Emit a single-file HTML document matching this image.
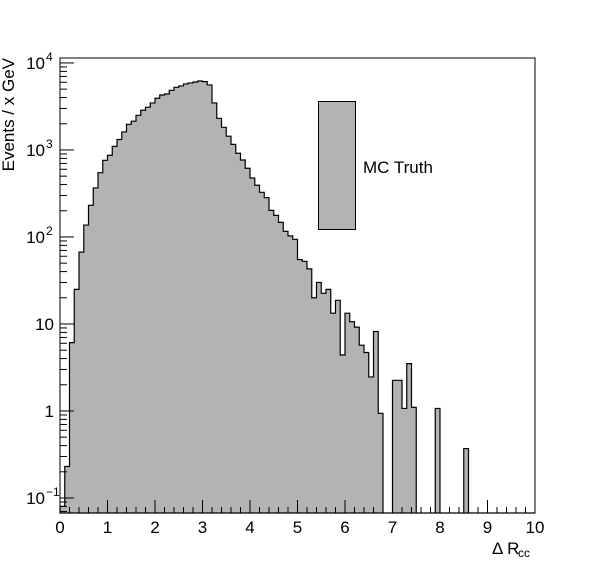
<!DOCTYPE html>
<html><head><meta charset="utf-8"><style>
body{margin:0;background:#fff;}
svg{display:block;font-family:"Liberation Sans",sans-serif;}
</style></head><body>
<svg id="chart" width="596" height="572" viewBox="0 0 596 572"></svg>
<script>
const binEdgesStart = 0, binWidth = 0.1;
const counts = [0.08,0.23,6.1,25,67,137,231,366,548,760,870,1100,1320,1610,1970,2140,2500,2860,3100,3470,3930,4280,4400,4850,5250,5440,5740,5890,6040,6200,6100,5590,3470,2310,1820,1440,1160,916,767,616,476,393,326,283,202,177,147,116,103,94,55,52.5,43,20,30,22.5,25,13.3,18.7,4.4,13.3,10.6,9.2,5.7,4.7,2.46,8.2,0.94,0,0,2.25,2.25,1.07,3.5,1.1,0,0,0,0,1.07,0,0,0,0,0,0.37,0,0,0,0,0,0,0,0,0,0,0,0,0,0];
const xTicks = [0,1,2,3,4,5,6,7,8,9,10];
const yTickExps = [-1,0,1,2,3,4];
const yTickLabels = ["10","1","10","10","10","10"];
const yTickSups = ["\u22121","","","2","3","4"];

const L=60,R=535,T=58,B=513;
const xMin=0,xMax=10, yLogMin=Math.log10(0.0672), yLogMax=Math.log10(11400);
const sx=v=>L+(v-xMin)/(xMax-xMin)*(R-L);
const sy=v=>B-(Math.log10(v)-yLogMin)/(yLogMax-yLogMin)*(B-T);
const svg=document.getElementById('chart');
const NS='http://www.w3.org/2000/svg';
function mk(tag,attrs,parent){const e=document.createElementNS(NS,tag);for(const k in attrs)e.setAttribute(k,attrs[k]);(parent||svg).appendChild(e);return e;}

let d='M'+sx(0)+','+B;
counts.forEach((c,i)=>{
  const x0=sx(binEdgesStart+i*binWidth), x1=sx(binEdgesStart+(i+1)*binWidth);
  const y=c>0?Math.max(T,Math.min(B,sy(c))):B;
  d+=' L'+x0+','+y+' L'+x1+','+y;
});
d+=' L'+sx(10)+','+B+' Z';
const hist=mk('path',{d:d,fill:'#b3b3b3',stroke:'#000','stroke-width':1.2,'stroke-linejoin':'miter'});



const frame=mk('rect',{x:L,y:T,width:R-L,height:B-T,fill:'none',stroke:'#000','stroke-width':1});



for(let i=0;i<=50;i++){
  const v=i*0.2, x=sx(v), major=(i%5===0);
  const t=mk('line',{x1:x,x2:x,y1:B,y2:B-(major?13:6),stroke:'#000','stroke-width':1});
  
  
}
xTicks.forEach(v=>{
  const t=mk('text',{x:sx(v),y:B+20,'text-anchor':'middle','font-size':17});
  t.textContent=v;
  
  
});
for(let e=-2;e<=4;e++){
  for(let m=1;m<10;m++){
    const v=m*Math.pow(10,e);
    if(v<0.0672||v>11400)continue;
    const y=sy(v);
    const t=mk('line',{x1:L,x2:L+(m===1?14:7),y1:y,y2:y,stroke:'#000','stroke-width':1});
    
    
  }
}
yTickExps.forEach((e,i)=>{
  const y=sy(Math.pow(10,e));
  const t=mk('text',{x:yTickSups[i]?L-15:L-6,y:y+6,'text-anchor':'end','font-size':17});
  t.textContent=yTickLabels[i];
  
  
  if(yTickSups[i]){
    const s=mk('text',{x:L-14,y:y-2,'text-anchor':'start','font-size':12});
    s.textContent=yTickSups[i];
    
    
  }
});
const yt=mk('text',{x:0,y:0,'text-anchor':'end','font-size':17,transform:'translate(14,58) rotate(-90)'});
yt.textContent='Events / x GeV';


const xt=mk('text',{x:492,y:554,'font-size':17});
xt.textContent='\u0394 R';


const xs=mk('text',{x:518,y:557,'font-size':12});
xs.textContent='cc';


const lb=mk('rect',{x:318.5,y:101.5,width:37,height:128,fill:'#b3b3b3',stroke:'#000','stroke-width':1});


const lt=mk('text',{x:363,y:173,'font-size':17});
lt.textContent='MC Truth';


</script>
</body></html>
